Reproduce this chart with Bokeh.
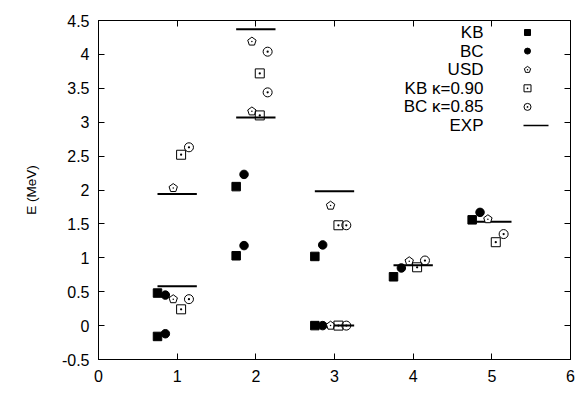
import numpy as np
from bokeh.plotting import figure
from bokeh.models import Range1d, LinearAxis, FixedTicker, Label
from bokeh.embed import file_html
from bokeh.resources import INLINE

# ---- data ----
J = [1, 1, 2, 2, 3, 3, 4, 5]
kb_E = [-0.16, 0.48, 1.03, 2.05, 0.0, 1.02, 0.72, 1.56]
bc_E = [-0.12, 0.45, 1.18, 2.23, 0.0, 1.19, 0.85, 1.67]
usd_E = [0.39, 2.03, 3.16, 4.19, 0.0, 1.77, 0.95, 1.57]
kbk_E = [0.24, 2.52, 3.10, 3.72, 0.0, 1.48, 0.86, 1.23]
bck_E = [0.39, 2.63, 3.44, 4.04, 0.0, 1.48, 0.96, 1.35]
exp_E = [0.58, 1.94, 3.07, 4.37, 0.0, 1.98, 0.89, 1.53]

series_labels = ["KB", "BC", "USD", "KB \u03ba=0.90", "BC \u03ba=0.85", "EXP"]
x_ticks = [0, 1, 2, 3, 4, 5, 6]
y_ticks = [-0.5, 0, 0.5, 1, 1.5, 2, 2.5, 3, 3.5, 4, 4.5]
y_tick_labels = ["-0.5", "0", "0.5", "1", "1.5", "2", "2.5", "3", "3.5", "4", "4.5"]

# ---- layout ----
W, H = 578, 406
ML, MR, MT, MB = 98, 8, 20, 47
XMIN, XMAX, YMIN, YMAX = 0, 6, -0.5, 4.5
px_x = (W - ML - MR) / (XMAX - XMIN)
px_y = (H - MT - MB) / (YMAX - YMIN)
FONT = "Liberation Sans"

p = figure(width=W, height=H, output_backend="svg", toolbar_location=None,
           x_range=Range1d(XMIN, XMAX), y_range=Range1d(YMIN, YMAX),
           min_border_left=ML, min_border_right=MR, min_border_top=MT,
           min_border_bottom=MB, x_axis_label=None, y_axis_label="E (MeV)")
p.xgrid.visible = False
p.ygrid.visible = False
p.outline_line_color = "black"
p.outline_line_width = 1
p.background_fill_color = "white"
p.border_fill_color = "white"

for ax in p.xaxis:
    ax.ticker = FixedTicker(ticks=x_ticks)
    ax.major_label_overrides = {t: str(t) for t in x_ticks}
for ax in p.yaxis:
    ax.ticker = FixedTicker(ticks=y_ticks)
    ax.major_label_overrides = {t: s for t, s in zip(y_ticks, y_tick_labels)}

for ax in list(p.xaxis) + list(p.yaxis):
    ax.major_tick_in = 6
    ax.major_tick_out = 0
    ax.minor_tick_line_color = None
    ax.axis_line_color = "black"
    ax.major_tick_line_color = "black"
    ax.major_label_text_font = FONT
    ax.major_label_text_font_size = "16px"
    ax.major_label_text_color = "black"
    ax.axis_label_text_font = FONT
    ax.axis_label_text_font_size = "13.5px"
    ax.axis_label_text_font_style = "normal"
    ax.axis_label_text_color = "black"
p.xaxis.major_label_standoff = 10
p.yaxis.major_label_standoff = 9
p.yaxis.axis_label_standoff = 20

# mirror axes (ticks only)
top = LinearAxis(ticker=FixedTicker(ticks=x_ticks), major_tick_in=6, major_tick_out=0,
                 minor_tick_line_color=None, major_label_text_font_size="0px",
                 axis_line_color="black", major_label_standoff=0)
right = LinearAxis(ticker=FixedTicker(ticks=y_ticks), major_tick_in=6, major_tick_out=0,
                   minor_tick_line_color=None, major_label_text_font_size="0px",
                   axis_line_color="black", major_label_standoff=0)
p.add_layout(top, "above")
p.add_layout(right, "right")

# offsets of each series around integer J
off_kb, off_bc, off_usd, off_kbk, off_bck = -0.25, -0.15, -0.05, 0.05, 0.15
J_arr = np.array(J, dtype=float)

# EXP lines
p.segment(x0=J_arr - 0.25, x1=J_arr + 0.25, y0=exp_E, y1=exp_E,
          line_color="black", line_width=2)

def pentagon(xc, yc, r):
    ang = np.deg2rad(90 + 72 * np.arange(5))
    return list(xc + r * np.cos(ang) / px_x), list(yc + r * np.sin(ang) / px_y)

def draw_pent(xs, ys, r):
    pxs, pys = [], []
    for xc, yc in zip(xs, ys):
        a, b = pentagon(xc, yc, r)
        pxs.append(a)
        pys.append(b)
    p.patches(pxs, pys, fill_color="white", line_color="black", line_width=1)
    p.scatter(xs, ys, marker="circle", size=1.5, fill_color="black", line_color=None)

p.scatter(J_arr + off_kb, kb_E, marker="square", size=8.5, fill_color="black", line_color="black")
p.scatter(J_arr + off_bc, bc_E, marker="circle", size=8.5, fill_color="black", line_color="black")
draw_pent(J_arr + off_usd, usd_E, 4.4)
p.scatter(J_arr + off_kbk, kbk_E, marker="square_dot", size=9, fill_color="white",
          fill_alpha=0.0, line_color="black", line_width=1)
p.scatter(J_arr + off_bck, bck_E, marker="circle_dot", size=9, fill_color="white",
          fill_alpha=0.0, line_color="black", line_width=1)

# ---- legend (gnuplot style: right-aligned text, sample at right) ----
leg_text_x = XMIN + (483 - ML) / px_x
leg_samp_x = XMIN + (527 - ML) / px_x
leg_y0 = YMAX - (32 - MT) / px_y
leg_dy = 18.6 / px_y
rows = [leg_y0 - i * leg_dy for i in range(len(series_labels))]
for lab, yy in zip(series_labels, rows):
    p.add_layout(Label(x=leg_text_x, y=yy, text=lab, text_align="right",
                       text_baseline="middle", text_font=FONT,
                       text_font_size="17px", text_color="black"))
p.scatter([leg_samp_x], [rows[0]], marker="square", size=6, fill_color="black", line_color="black")
p.scatter([leg_samp_x], [rows[1]], marker="circle", size=6, fill_color="black", line_color="black")
draw_pent([leg_samp_x], [rows[2]], 3.3)
p.scatter([leg_samp_x], [rows[3]], marker="square_dot", size=7, fill_alpha=0.0, line_color="black")
p.scatter([leg_samp_x], [rows[4]], marker="circle_dot", size=7, fill_alpha=0.0, line_color="black")
p.segment(x0=[XMIN + (523 - ML) / px_x], x1=[XMIN + (548 - ML) / px_x],
          y0=[rows[5]], y1=[rows[5]], line_color="black", line_width=1.5)

# x axis label (partly cut off at bottom, as in reference)
p.add_layout(Label(x=3, y=YMIN - (397 - (H - MB)) / px_y, text="I", text_align="center",
                   text_baseline="top", text_font=FONT, text_font_size="14px",
                   text_color="black"))

open("out.html", "w").write(file_html(p, INLINE))
